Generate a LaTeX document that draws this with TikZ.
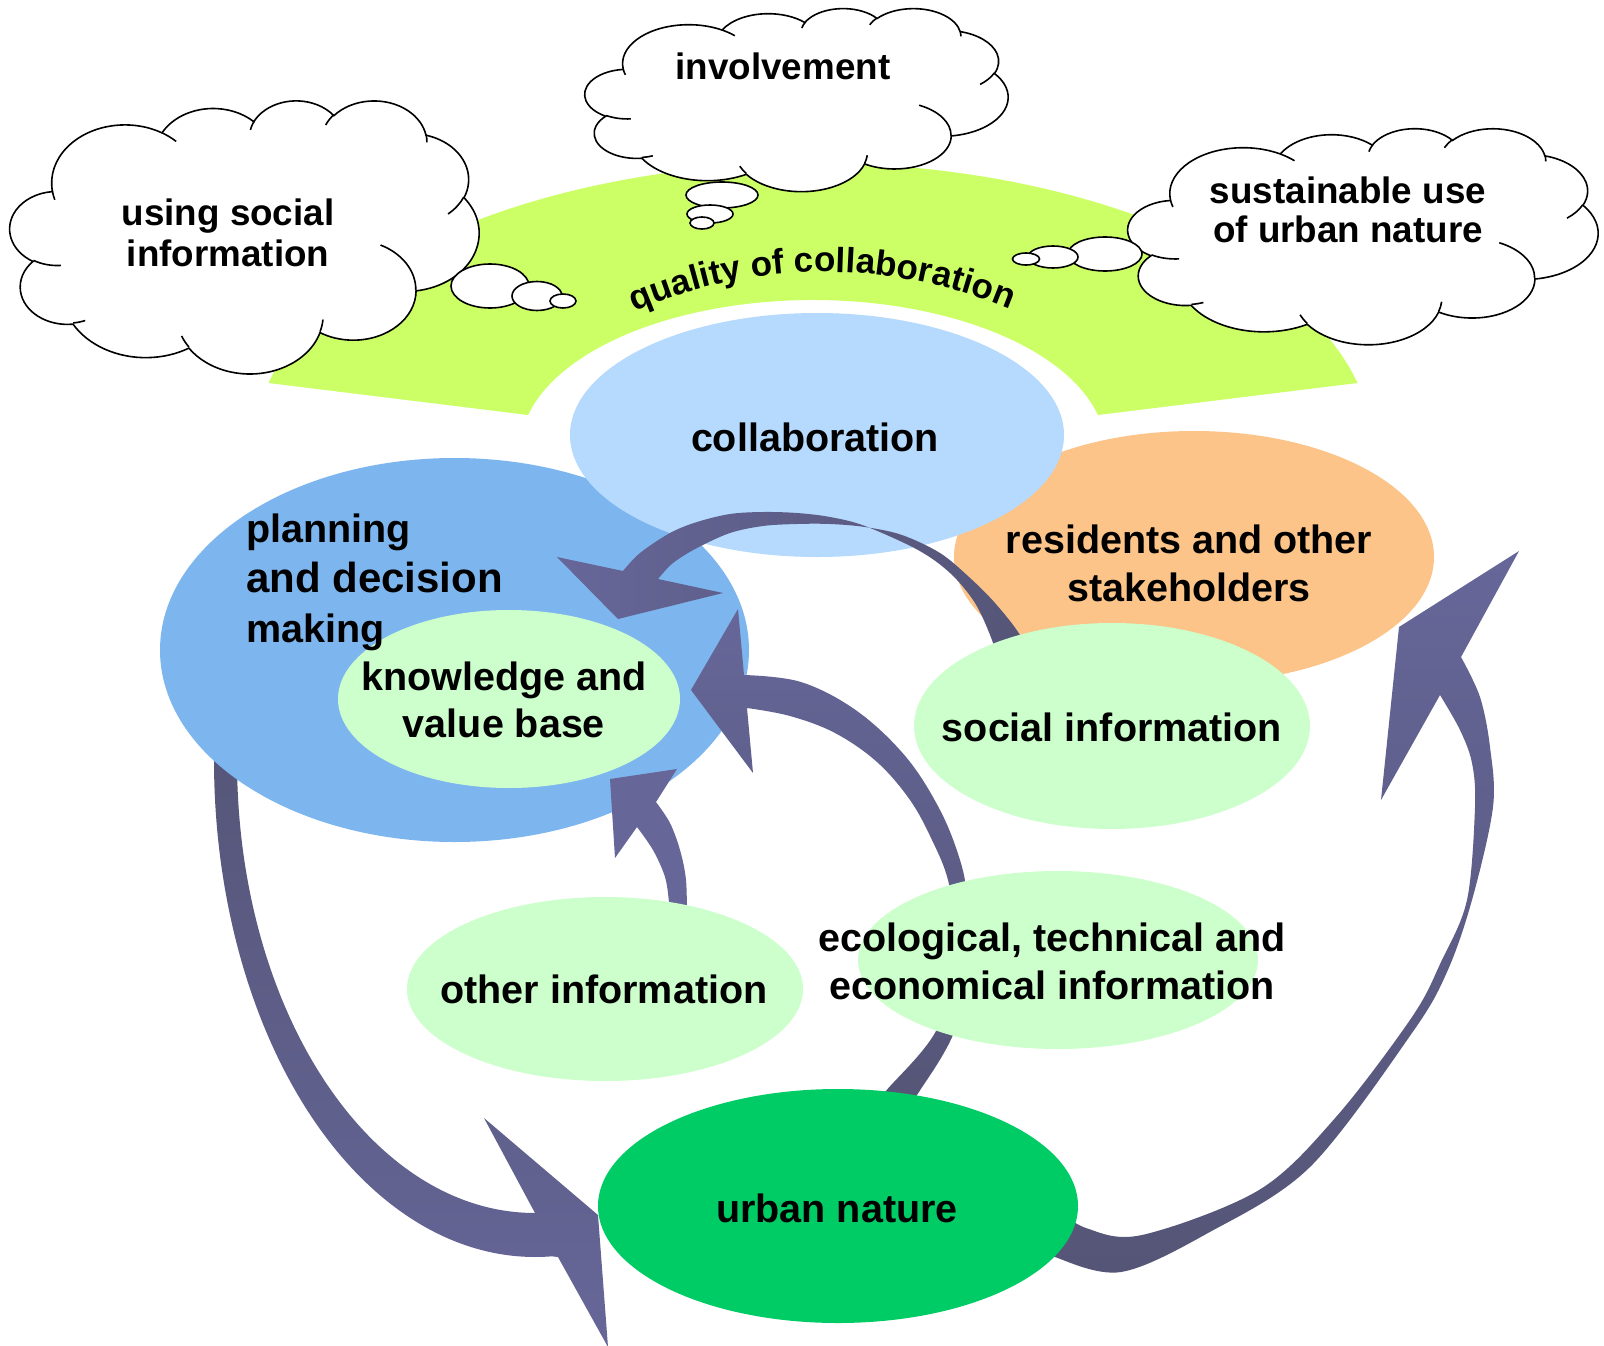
\documentclass[tikz,border=0pt]{standalone}
\usepackage{fontspec}
\setmainfont{Liberation Sans}
\usetikzlibrary{shapes.geometric,decorations.text}
\definecolor{bandc}{RGB}{204,255,102}
\definecolor{collabc}{RGB}{181,218,254}
\definecolor{planc}{RGB}{125,182,238}
\definecolor{resc}{RGB}{252,196,136}
\definecolor{infoc}{RGB}{204,255,204}
\definecolor{naturec}{RGB}{0,204,102}
\definecolor{arrowc}{RGB}{102,102,153}
\definecolor{arrowd}{RGB}{85,85,119}
\newcommand\cloudang[5]{%
  \pgfmathsetmacro\cltmpa{atan2((#2)*sin(#4),(#3)*cos(#4))}%
  \pgfmathsetmacro\cltmpb{atan2((#2)*sin((#4)+(#5)),(#3)*cos((#4)+(#5)))}%
  \pgfmathsetmacro\cltmpb{(\cltmpa)+Mod((\cltmpb)-(\cltmpa),360)}%
  \expandafter\let\csname cl#1s\endcsname\cltmpa
  \expandafter\let\csname cl#1e\endcsname\cltmpb}
\cloudang{A}{67.53}{91.90}{-190.4875}{123.7805}
\cloudang{B}{53.33}{72.67}{-144.1024}{89.9452}
\cloudang{C}{43.65}{59.45}{-145.8079}{99.7230}
\cloudang{D}{48.57}{65.95}{-130.9861}{117.2417}
\cloudang{E}{53.33}{72.73}{-78.7089}{109.0269}
\cloudang{F}{67.75}{92.20}{-46.2673}{130.2690}
\cloudang{G}{57.85}{78.67}{0.6250}{114.0333}
\cloudang{H}{67.52}{92.15}{22.4516}{115.1726}
\cloudang{I}{77.20}{105.43}{66.2426}{75.7110}
\cloudang{J}{43.60}{59.18}{-274.9421}{146.7356}
\cloudang{K}{43.45}{59.45}{-246.8285}{152.5189}
\cloudang{a}{43.45}{59.45}{86.742}{26.4295}
\cloudang{b}{43.60}{59.18}{73.6105}{11.4475}
\cloudang{c}{67.52}{92.15}{137.6242}{14.0811}
\cloudang{d}{67.52}{92.15}{6.4533}{15.9984}
\cloudang{e}{57.85}{78.67}{-70.2924}{70.9174}
\cloudang{f}{53.33}{72.73}{30.3180}{27.7515}
\cloudang{g}{48.57}{65.95}{-13.7443}{14.8640}
\cloudang{h}{48.57}{65.95}{-149.1815}{18.1985}
\cloudang{i}{43.65}{59.45}{-163.4943}{17.6913}
\cloudang{j}{67.53}{91.90}{-66.7070}{12.3194}
\cloudang{k}{67.53}{91.90}{157.6544}{11.8582}
\newcommand\drawcloud[4]{%
\begin{scope}[shift={(#1,#2)},xscale=#3/432,yscale=#4/432]
\filldraw[cloudst] (39.00,143.70)
  arc[x radius=67.53,y radius=91.90,start angle=\clAs,end angle=\clAe]
  arc[x radius=53.33,y radius=72.67,start angle=\clBs,end angle=\clBe]
  arc[x radius=43.65,y radius=59.45,start angle=\clCs,end angle=\clCe]
  arc[x radius=48.57,y radius=65.95,start angle=\clDs,end angle=\clDe]
  arc[x radius=53.33,y radius=72.73,start angle=\clEs,end angle=\clEe]
  arc[x radius=67.75,y radius=92.20,start angle=\clFs,end angle=\clFe]
  arc[x radius=57.85,y radius=78.67,start angle=\clGs,end angle=\clGe]
  arc[x radius=67.52,y radius=92.15,start angle=\clHs,end angle=\clHe]
  arc[x radius=77.20,y radius=105.43,start angle=\clIs,end angle=\clIe]
  arc[x radius=43.60,y radius=59.18,start angle=\clJs,end angle=\clJe]
  arc[x radius=43.45,y radius=59.45,start angle=\clKs,end angle=\clKe]
  -- cycle;
\draw[curlst] (46.93,261.77) arc[x radius=43.45,y radius=59.45,start angle=\clas,end angle=\clae];
\draw[curlst] (69.28,348.99) arc[x radius=43.60,y radius=59.18,start angle=\clbs,end angle=\clbe];
\draw[curlst] (164.78,390.90) arc[x radius=67.52,y radius=92.15,start angle=\clcs,end angle=\clce];
\draw[curlst] (288.27,347.51) arc[x radius=67.52,y radius=92.15,start angle=\clds,end angle=\clde];
\draw[curlst] (341.29,229.54) arc[x radius=57.85,y radius=78.67,start angle=\cles,end angle=\clee];
\draw[curlst] (417.98,153.54) arc[x radius=53.33,y radius=72.73,start angle=\clfs,end angle=\clfe];
\draw[curlst] (383.24,54.26) arc[x radius=48.57,y radius=65.95,start angle=\clgs,end angle=\clge];
\draw[curlst] (290.78,39.52) arc[x radius=48.57,y radius=65.95,start angle=\clhs,end angle=\clhe];
\draw[curlst] (221.41,47.20) arc[x radius=43.65,y radius=59.45,start angle=\clis,end angle=\clie];
\draw[curlst] (140.05,52.03) arc[x radius=67.53,y radius=91.90,start angle=\cljs,end angle=\clje];
\draw[curlst] (41.27,157.89) arc[x radius=67.53,y radius=91.90,start angle=\clks,end angle=\clke];
\end{scope}}
\begin{document}
\begin{tikzpicture}[x=1pt,y=-1pt,
  cloudst/.style={draw=black,fill=white,line width=1.6pt},
  curlst/.style={draw=black,line width=1.6pt},
  ell/.style={ellipse,inner sep=0pt,draw=none},
  lab/.style={font=\fontsize{39.5}{48}\selectfont\bfseries,align=center,inner sep=0pt},
  ctext/.style={font=\fontsize{36.8}{41}\selectfont\bfseries,align=center,inner sep=0pt}]
\useasboundingbox (0,0) rectangle (1604,1346);
\clip (0,0) rectangle (1604,1346);
\fill[white] (0,0) rectangle (1604,1346);
% band
\fill[bandc] (268.5,383) arc[x radius=560,y radius=287,start angle=-166.5,end angle=-13.5]
  -- (1097.9,415) arc[x radius=293,y radius=150,start angle=-13.5,end angle=-166.5] -- cycle;
% clouds
\drawcloud{10}{100}{469}{273}
\drawcloud{585}{8}{423}{183}
\drawcloud{1128}{128}{470}{216}
\filldraw[cloudst] (490,286) ellipse[x radius=39,y radius=22];
\filldraw[cloudst] (537,296) ellipse[x radius=25,y radius=14.5];
\filldraw[cloudst] (563,301) ellipse[x radius=13,y radius=7];
\filldraw[cloudst] (722,195) ellipse[x radius=36,y radius=13];
\filldraw[cloudst] (710,214) ellipse[x radius=23,y radius=9];
\filldraw[cloudst] (702,223) ellipse[x radius=12,y radius=6];
\filldraw[cloudst] (1105,254) ellipse[x radius=37,y radius=17];
\filldraw[cloudst] (1053,257) ellipse[x radius=25,y radius=11];
\filldraw[cloudst] (1026,259) ellipse[x radius=13.5,y radius=6];
\node[ctext] (t1) at (228,233) {using social\\information};
\node[ctext] (t2) at (783,66) {involvement};
\node[ctext,font=\fontsize{36.8}{39}\selectfont\bfseries] (t3) at (1348,210) {sustainable use\\of urban nature};
\path[decorate,decoration={text along path,
  text={|\fontsize{35}{35}\selectfont\bfseries|quality of collaboration},
  text align=center}]
  (632.9,312.3) arc[radius=478,start angle=-113.7,end angle=-67];
% arrow D (planning -> urban nature)
\path[top color=arrowd,bottom color=arrowc] (484,1118) -- (535,1213)
  arc[x radius=298,y radius=453,start angle=90,end angle=180] -- (238,700) -- (213,700) -- (214,760)
  arc[x radius=321,y radius=497,start angle=180,end angle=87] -- (558,1257) -- (608,1347) -- (598,1215) -- cycle;
% ellipses
\node[ell,fill=planc,minimum width=589pt,minimum height=384pt] (plan) at (454.5,650) {};
\node[ell,fill=resc,minimum width=480pt,minimum height=252pt] (res) at (1194,557) {};
\node[ell,fill=collabc,minimum width=494pt,minimum height=244pt] (collab) at (817,435) {};
\node[ell,fill=infoc,minimum width=342pt,minimum height=178pt] (know) at (509,699) {};
% arrow E (urban nature -> residents)
\path[top color=arrowc,bottom color=arrowd] (1519,551) -- (1461,657)
  -- plot[smooth,tension=0.55] coordinates {(1461,657) (1480,697) (1490,747) (1493,807) (1472,900) (1447,972) (1412,1033) (1310,1167) (1208,1233) (1121,1272) (1055,1257) (1030,1240)}
  -- plot[smooth,tension=0.55] coordinates {(1050,1205) (1086,1228) (1142,1235) (1259,1190) (1336,1117) (1412,1017) (1441,962) (1467,900) (1475,807) (1472,763) (1460,730) (1440,695)}
  -- (1381,800) -- (1399,627) -- cycle;
% arrow A (social information -> planning)
\path[left color=arrowc,right color=arrowd] (557,557) -- (623,571)
  -- plot[smooth,tension=0.55] coordinates {(623,571) (640,553) (670,533) (697,522) (730,514) (763,512) (797,513) (830,517) (865,526) (918,550) (950,573) (975,603) (992,640) (1000,668)}
  -- plot[smooth,tension=0.55] coordinates {(1035,668) (1020,635) (995,603) (969,577) (940,553) (902,535) (865,527) (830,524) (797,524) (763,526) (730,533) (697,548) (673,563) (658,579)}
  -- (723,593) -- (618,619) -- cycle;
% arrow B (urban nature -> knowledge)
\path[top color=arrowc,bottom color=arrowd] (738,609) -- (744,675)
  -- plot[smooth,tension=0.6] coordinates {(744,675) (801,682) (857,711) (906,757) (940,810) (960,860) (968,900) (975,960) (953,1035) (917,1095) (905,1112)}
  -- plot[smooth,tension=0.6] coordinates {(870,1112) (885,1092) (936,1031) (955,960) (955,930) (948,880) (932,840) (910,800) (877,762) (835,733) (790,716) (747,708)}
  -- (753,773) -- (691,690) -- cycle;
% arrow C (other information -> knowledge)
\fill[arrowc] (677,769) -- (656,802)
  -- plot[smooth,tension=0.55] coordinates {(656,802) (670,823) (680,850) (686,880) (687,920)}
  -- plot[smooth,tension=0.55] coordinates {(669,920) (669,903) (665,877) (653,850) (637,827)}
  -- (615,858) -- (610,779) -- cycle;
% info ellipses
\node[ell,fill=infoc,minimum width=396pt,minimum height=206pt] (soc) at (1112,726) {};
\node[ell,fill=infoc,minimum width=396pt,minimum height=184pt] (oth) at (605,989) {};
\node[ell,fill=infoc,minimum width=400pt,minimum height=178pt] (eco) at (1058,960) {};
\node[ell,fill=naturec,minimum width=480pt,minimum height=234pt] (nat) at (838,1206) {};
% labels
\node[lab] (l1) at (815,437) {collaboration};
\node[lab,align=left,anchor=west,font=\fontsize{39.5}{50}\selectfont\bfseries] (l2) at (246,582)
  {planning\\\fontsize{42}{50}\selectfont and decision\\making};
\node[lab,font=\fontsize{39.5}{47}\selectfont\bfseries] (l3) at (504,700) {knowledge and\\value base};
\node[lab] (l4) at (1189,563) {residents and other\\stakeholders};
\node[lab] (l5) at (1112,727) {social information};
\node[lab] (l6) at (604,989) {other information};
\node[lab] (l7) at (1052,961) {ecological, technical and\\economical information};
\node[lab] (l8) at (837,1208) {urban nature};
\end{tikzpicture}
\end{document}
